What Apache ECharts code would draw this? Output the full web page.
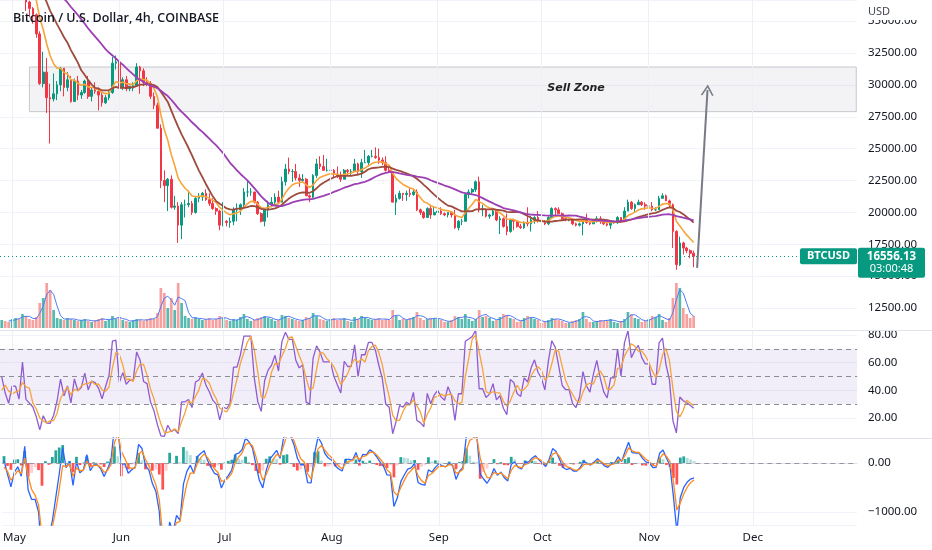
<!DOCTYPE html>
<html><head><meta charset="utf-8">
<script src="https://cdn.jsdelivr.net/npm/echarts@6/dist/echarts.min.js"></script>
<style>html,body{margin:0;padding:0;background:#fff}#c{width:932px;height:550px}</style>
</head><body><div id="c"></div>
<script>
// ---------------- data ----------------
const startDate = '2022-04-28';
const dayCount = 248; // Apr 28 .. Dec 31
const monthLabels = ['Jan','Feb','Mar','Apr','May','Jun','Jul','Aug','Sep','Oct','Nov','Dec'];
// closes before the visible window (Apr 1 - Apr 27), only used to warm up the moving averages
const warmupCloses = [45500,46300,46400,46600,45500,43200,43400,42300,42800,42200,39500,40100,41200,39900,40600,40400,39700,40800,41500,41400,40500,39700,39500,39400,40400,38100,39200];
const firstOpen = 39200;
// daily candles Apr 28 .. Nov 14
const closes = [
39700,38600,37700,38500,38500,37700,39700,36500,36000,35500,34000,
30100,31000,29000,28900,29300,30000,31300,29800,30400,28700,
30300,29200,29400,30300,29100,29600,29500,29200,28600,29000,29400,31700,31800,
29800,30400,29700,29900,29900,31400,31100,30200,30100,29100,28400,
26600,22500,22100,22600,20400,20500,19000,20600,
20600,20700,20000,21100,21200,21500,21000,20700,20300,20100,19000,
19300,19200,19300,20200,20200,20600,21600,21600,21600,20800,19900,19300,20200,20600,20800,21200,20800,22400,23400,23200,23200,22700,22500,22600,21300,21200,22900,23800,23600,23300,23300,
23300,23000,22800,22600,23300,23200,23200,23800,23200,23900,23900,24400,24400,24300,24100,23900,23300,23200,20800,21100,21500,21400,21500,21400,21600,20200,20000,19600,20300,19800,20000,
20100,19900,19800,20000,19800,18800,19300,19300,21400,21600,21800,22400,20200,20200,19700,19800,20100,19400,19500,18900,18500,19400,19300,18900,18800,19200,19100,19400,19600,19400,
19300,19100,19600,20300,20200,19900,19500,19400,19400,19100,19000,19100,19400,19200,19100,19300,19500,19300,19100,19000,19200,19200,19600,19300,20100,20800,20300,20600,20800,20600,20500,
20500,20200,20200,21100,21300,20900,20600,18500,15900,17600,17200,17000,16800,16556.13];
const highs = [
40500,39900,38800,38700,39100,38600,40000,39800,36600,36100,35600,
34200,32600,32100,30100,30900,30300,31400,31300,31000,30700,
30500,30700,29600,30400,30700,29800,30200,29800,29400,29200,29500,32200,32300,
31900,30600,30700,29900,30200,31700,31500,31300,30600,30300,29400,
28600,26900,23300,22700,22900,21300,20800,20800,
21000,21700,20900,21200,21500,21600,21800,21500,21100,20400,20200,
20800,19400,19600,20400,20700,20700,21900,22500,21900,21600,20900,20000,20300,20900,21200,21500,21700,22800,23800,24300,23400,23800,23000,23000,22700,21400,23000,24200,24400,24500,24200,
23500,23400,23600,23200,23400,23400,23400,24200,23900,24200,24900,24500,24900,25100,25000,24300,24400,23600,23200,21400,21700,21500,21700,21900,21800,21800,20300,20100,20400,20600,20500,
20200,20400,20000,20000,20000,20200,19400,19500,21500,21800,21900,22500,22800,20600,20300,19900,20200,20200,19700,19600,19900,19500,19500,19300,19100,19300,20400,19700,19700,20100,
19500,19400,19700,20400,20400,20400,20000,19600,19500,19500,19200,19200,19500,19900,19200,19400,19700,19700,19300,19300,19300,19300,19700,19600,20400,21000,20900,20700,21000,20900,20800,
20700,20800,20400,21300,21500,21400,21000,20700,18600,18100,17700,17300,17100,17000];
const lows = [
38900,38200,37600,37400,38100,37500,37600,35800,35300,34800,33700,
30000,29800,27800,25400,28700,28800,29500,29100,29500,28600,
28700,28800,28900,29300,28900,28700,29300,28000,28300,28500,28800,29300,31200,
29500,29600,29500,29500,29500,29900,29300,29900,29900,28900,28100,
26600,21900,20800,20100,20300,20200,17600,17900,
19600,20400,19800,19900,20800,20900,20900,20500,20200,19800,18600,
18900,18900,18800,19000,19300,19800,20300,21200,21300,20700,19800,19200,18900,19600,20400,20500,20700,20800,22100,23000,22400,22500,22000,22300,21300,20800,21100,22700,23400,23300,23200,
22900,22700,22700,22400,22600,22900,22900,23200,22900,22700,23900,23600,24300,24200,23800,23700,23200,23100,20800,19800,21000,20900,20900,21200,21300,20100,19800,19500,19600,19500,19800,
19600,19800,19700,19600,19600,18700,18600,19000,19300,21100,21400,21600,20000,19700,19600,19500,19700,19300,18300,18800,18200,18400,18600,18800,18700,18700,18900,18500,19100,19200,
19200,19000,19000,19500,19800,19900,19400,19300,19300,19000,18900,18900,18200,19100,19000,19100,19200,19100,19000,18900,18700,19100,19100,19200,19300,20100,20200,20000,20600,20500,20200,
20300,20100,20100,20200,21100,20900,20400,17200,15500,15800,16700,16800,16400,15700];
// volume, in the units of the volume scale
const volumes = [
8,7,6,9,10,9,14,12,9,8,11,
25,30,45,38,18,10,
9,8,10,9,8,7,8,9,7,6,8,9,10,7,8,12,9,
11,8,7,6,8,9,8,7,9,10,9,
15,40,35,20,30,18,45,25,
12,10,9,11,9,8,9,10,8,9,12,
10,8,7,9,8,11,14,9,7,8,10,11,12,10,9,7,8,13,12,10,9,8,7,8,11,10,15,12,9,8,7,
9,10,8,9,10,7,6,11,9,12,10,9,8,9,10,8,9,8,18,12,8,9,8,10,11,16,10,8,9,10,10,
9,8,6,6,8,12,11,9,14,9,7,9,18,11,12,10,7,8,11,14,13,10,9,6,7,10,12,10,9,8,
5,6,8,10,9,8,7,5,5,7,8,9,16,9,6,6,7,8,7,8,9,6,5,7,9,16,14,10,9,6,7,
9,12,11,14,8,6,10,30,45,40,20,14,10,12];
const lastPrice = 16556.13;
const countdown = '03:00:48';
const sellZone = [['2022-05-06', 31400], ['2022-12-31', 27900]];
const sellZoneLabelAt = ['2022-10-11', 29750];
const arrowLine = [['2022-11-15', 15650], ['2022-11-18', 29600]];
const rsiLevels = [70, 50, 30];

// ---------------- helpers ----------------
const cats = [];
{ const d0 = Date.parse(startDate + 'T00:00:00Z');
  for (let i = 0; i < dayCount; i++) cats.push(new Date(d0 + i * 86400000).toISOString().slice(0, 10)); }
const isMonthStart = i => cats[i] && cats[i].slice(8) === '01';
const monthStarts = cats.filter(d => d.slice(8) === '01');

function ema(a, n) { const k = 2 / (n + 1); const o = []; let e = null;
  for (const v of a) { if (v == null) { o.push(null); continue; } e = e == null ? v : e + k * (v - e); o.push(e); } return o; }
function sma(a, n) { const o = [];
  for (let i = 0; i < a.length; i++) { let s = 0, c = 0;
    for (let j = i - n + 1; j <= i; j++) if (j >= 0 && a[j] != null) { s += a[j]; c++; }
    o.push(c === n ? s / n : null); } return o; }
function rsiWilder(a, p) { const o = [null]; let ag = 0, al = 0;
  for (let i = 1; i < a.length; i++) { const d = a[i] - a[i - 1]; const g = d > 0 ? d : 0, l = d < 0 ? -d : 0;
    if (i <= p) { ag += g; al += l; if (i === p) { ag /= p; al /= p; o.push(100 - 100 / (1 + ag / Math.max(al, 1e-9))); } else o.push(null); }
    else { ag = (ag * (p - 1) + g) / p; al = (al * (p - 1) + l) / p; o.push(100 - 100 / (1 + ag / Math.max(al, 1e-9))); } }
  return o; }

const W = warmupCloses.length;
const full = warmupCloses.concat(closes);
const opens = closes.map((c, i) => i === 0 ? firstOpen : closes[i - 1]);
const candles = closes.map((c, i) => [opens[i], c, Math.min(lows[i], opens[i], c), Math.max(highs[i], opens[i], c)]);

const emaFast = ema(full, 8.4).slice(W);
const smaMid = sma(full, 17).slice(W);
const smaSlow = sma(full, 33).slice(W);

const upCol = '#089981', dnCol = '#f23645';
const volData = volumes.map((v, i) => ({ value: v, itemStyle: { color: closes[i] >= opens[i] ? 'rgba(38,166,154,0.78)' : 'rgba(239,83,80,0.55)' } }));
const volMA = sma(volumes, 3);

const rsiFull = rsiWilder(full, 5);
const rsiVals = rsiFull.slice(W);
const rsiMA = sma(rsiFull, 3).slice(W);

const e1 = ema(full, 2), e2 = ema(full, 4.33);
const macdFull = e1.map((v, i) => v - e2[i]);
const sigFull = ema(macdFull, 2.5);
const macd = macdFull.slice(W), sig = sigFull.slice(W);
const hist = macd.map((v, i) => v - sig[i]);
const histData = hist.map((h, i) => {
  const prev = i > 0 ? hist[i - 1] : 0;
  let c;
  if (h >= 0) c = h >= prev ? '#26a69a' : '#b2dfdb';
  else c = h <= prev ? '#ff5252' : '#ffcdd2';
  return { value: h, itemStyle: { color: c } };
});
const nulls = closes.map(() => null);

// ---------------- chart ----------------
const FONT = "'Noto Sans', sans-serif";
const chart = echarts.init(document.getElementById('c'));
function xAx(g, labels) {
  return { type: 'category', gridIndex: g, data: cats, boundaryGap: true,
    axisLine: { show: labels, lineStyle: { color: '#e0e3eb' } }, axisTick: { show: false },
    axisLabel: { show: labels, interval: i => isMonthStart(i), formatter: v => monthLabels[+v.slice(5, 7) - 1],
      color: '#131722', fontSize: 11.5, margin: 7, fontFamily: FONT },
    splitLine: { show: false }, splitArea: { show: false } };
}
function monthGrid(xi, yi) {
  return { type: 'line', xAxisIndex: xi, yAxisIndex: yi, data: nulls, z: 0, silent: true, showSymbol: false,
    markLine: { silent: true, symbol: ['none', 'none'], label: { show: false }, animation: false,
      lineStyle: { type: 'solid', color: '#eef0f5', width: 1 }, data: monthStarts.map(d => ({ xAxis: d })) } };
}
const labelStyle = { color: '#131722', fontSize: 11.5, margin: 10, fontFamily: FONT };
const gridBase = { left: 0, right: 74, show: false, borderWidth: 0, containLabel: false };
const option = {
  animation: false, backgroundColor: '#ffffff', textStyle: { fontFamily: FONT },
  title: { text: 'Bitcoin / U.S. Dollar, 4h, COINBASE', left: 8, top: 7,
    textStyle: { fontSize: 12.5, fontWeight: 600, color: '#131722', fontFamily: "'Open Sans', sans-serif" } },
  grid: [
    Object.assign({ top: 0, height: 308 }, gridBase),
    Object.assign({ top: 0, height: 328 }, gridBase),
    Object.assign({ top: 330, height: 108 }, gridBase),
    Object.assign({ top: 438, height: 87 }, gridBase)
  ],
  xAxis: [xAx(0, false), xAx(1, false), xAx(2, false), xAx(3, true)],
  yAxis: [
    { type: 'value', gridIndex: 0, position: 'right', min: 12500, max: 36657, interval: 2500,
      axisLine: { show: false }, axisTick: { show: false },
      axisLabel: Object.assign({ formatter: v => v.toFixed(2), showMaxLabel: false }, labelStyle),
      splitLine: { lineStyle: { color: '#f0f3fa' } } },
    { type: 'value', gridIndex: 1, min: 0, max: 328, show: false, axisLine: { show: false }, splitLine: { show: false } },
    { type: 'value', gridIndex: 2, position: 'right', min: 5.54, max: 83.6, splitNumber: 4,
      axisLine: { show: false }, axisTick: { show: false },
      axisLabel: Object.assign({ formatter: v => v.toFixed(2), showMinLabel: false, showMaxLabel: false }, labelStyle),
      splitLine: { lineStyle: { color: '#f0f3fa' } } },
    { type: 'value', gridIndex: 3, position: 'right', min: -1265, max: 510, splitNumber: 2,
      axisLine: { show: false }, axisTick: { show: false },
      axisLabel: Object.assign({ formatter: v => (v < 0 ? '\u2212' : '') + Math.abs(v).toFixed(2), showMinLabel: false, showMaxLabel: false }, labelStyle),
      splitLine: { lineStyle: { color: '#f0f3fa' } } }
  ],
  series: [
    monthGrid(1, 1), monthGrid(2, 2), monthGrid(3, 3),
    { type: 'line', xAxisIndex: 0, yAxisIndex: 0, data: nulls, z: 1, silent: true, showSymbol: false,
      markArea: { silent: true, itemStyle: { color: 'rgba(120,126,140,0.09)', borderColor: '#c5c8ce', borderWidth: 1 },
        data: [[{ coord: sellZone[0] }, { coord: sellZone[1] }]] },
      markPoint: { silent: true, symbol: 'circle', symbolSize: 0,
        label: { show: true, position: 'inside', formatter: 'Sell Zone', fontStyle: 'italic', fontWeight: 'bold',
          fontSize: 11, color: '#222', fontFamily: "'DejaVu Sans', sans-serif" },
        data: [{ coord: sellZoneLabelAt }] },
      markLine: { silent: true, symbol: ['none', 'none'], label: { show: false },
        lineStyle: { type: [1, 3], color: upCol, width: 1 }, data: [{ yAxis: lastPrice }] } },
    { type: 'bar', name: 'Volume', xAxisIndex: 1, yAxisIndex: 1, data: volData, barWidth: '78%', z: 1 },
    { type: 'line', xAxisIndex: 1, yAxisIndex: 1, data: volMA, showSymbol: false, z: 2,
      lineStyle: { color: '#4f7cf5', width: 1 } },
    { type: 'candlestick', name: 'BTCUSD', xAxisIndex: 0, yAxisIndex: 0, data: candles, barWidth: '62%', z: 3,
      itemStyle: { color: upCol, color0: dnCol, borderColor: upCol, borderColor0: dnCol, borderWidth: 1 } },
    { type: 'line', name: 'EMA', xAxisIndex: 0, yAxisIndex: 0, data: emaFast, showSymbol: false, z: 4,
      lineStyle: { color: '#f7a53b', width: 1.6 } },
    { type: 'line', name: 'SMA mid', xAxisIndex: 0, yAxisIndex: 0, data: smaMid, showSymbol: false, z: 4,
      lineStyle: { color: '#9e4a3c', width: 1.8 } },
    { type: 'line', name: 'SMA slow', xAxisIndex: 0, yAxisIndex: 0, data: smaSlow, showSymbol: false, z: 4,
      lineStyle: { color: '#9c3fb2', width: 1.8 },
      markLine: { silent: true, symbol: ['none', 'path://M0,12 L6,0 L12,12 L10.4,12 L6,3.4 L1.6,12 Z'], symbolSize: [13, 11],
        label: { show: false }, lineStyle: { type: 'solid', color: '#787b86', width: 2 },
        data: [[{ coord: arrowLine[0] }, { coord: arrowLine[1] }]] } },
    { type: 'line', name: 'RSI', xAxisIndex: 2, yAxisIndex: 2, data: rsiVals, showSymbol: false, z: 3,
      lineStyle: { color: '#8e5bd0', width: 1.3 },
      markArea: { silent: true, itemStyle: { color: 'rgba(126,87,194,0.1)' }, data: [[{ yAxis: rsiLevels[0] }, { yAxis: rsiLevels[2] }]] },
      markLine: { silent: true, symbol: ['none', 'none'], label: { show: false },
        lineStyle: { type: [5, 4], color: '#8a8d96', width: 1 }, data: rsiLevels.map(v => ({ yAxis: v })) } },
    { type: 'line', name: 'RSI MA', xAxisIndex: 2, yAxisIndex: 2, data: rsiMA, showSymbol: false, z: 4,
      lineStyle: { color: '#f5a33a', width: 1.3 } },
    { type: 'bar', name: 'Hist', xAxisIndex: 3, yAxisIndex: 3, data: histData, barWidth: '80%', z: 2,
      markLine: { silent: true, symbol: ['none', 'none'], label: { show: false },
        lineStyle: { type: [5, 4], color: '#9598a1', width: 1 }, data: [{ yAxis: 0 }] } },
    { type: 'line', name: 'MACD', xAxisIndex: 3, yAxisIndex: 3, data: macd, showSymbol: false, z: 3,
      lineStyle: { color: '#2962ff', width: 1.3 } },
    { type: 'line', name: 'Signal', xAxisIndex: 3, yAxisIndex: 3, data: sig, showSymbol: false, z: 4,
      lineStyle: { color: '#ff8a1c', width: 1.3 } }
  ]
};
chart.setOption(option);

const yPx = chart.convertToPixel({ yAxisIndex: 0 }, lastPrice);
const plotRight = 858;
chart.setOption({ graphic: [
  { type: 'rect', shape: { x: plotRight - 0.8, y: 0, width: 9, height: 550 }, style: { fill: '#ffffff' }, z: 48 },
  { type: 'line', shape: { x1: 0, y1: 330.5, x2: 932, y2: 330.5 }, style: { stroke: '#e0e3eb', lineWidth: 1 }, z: 50 },
  { type: 'line', shape: { x1: 0, y1: 438.5, x2: 932, y2: 438.5 }, style: { stroke: '#e0e3eb', lineWidth: 1 }, z: 50 },
  { type: 'rect', shape: { x: plotRight + 1, y: 0, width: 932 - plotRight, height: 20 }, style: { fill: '#ffffff' }, z: 49 },
  { type: 'text', x: 868, y: 6, style: { text: 'USD', fill: '#434651', font: "11px 'Noto Sans'" }, z: 50 },
  { type: 'rect', shape: { x: plotRight - 58, y: yPx - 8, width: 57, height: 16, r: 2 }, style: { fill: upCol }, z: 100 },
  { type: 'text', x: plotRight - 29.5, y: yPx, style: { text: 'BTCUSD', fill: '#fff', font: "bold 11px 'Noto Sans'", align: 'center', verticalAlign: 'middle' }, z: 101 },
  { type: 'rect', shape: { x: plotRight, y: yPx - 8.5, width: 67, height: 30, r: 2 }, style: { fill: upCol }, z: 100 },
  { type: 'text', x: plotRight + 33.5, y: yPx, style: { text: lastPrice.toFixed(2), fill: '#fff', font: "bold 11.5px 'Noto Sans'", align: 'center', verticalAlign: 'middle' }, z: 101 },
  { type: 'text', x: plotRight + 33.5, y: yPx + 13, style: { text: countdown, fill: '#fff', font: "11px 'Noto Sans'", align: 'center', verticalAlign: 'middle' }, z: 101 }
] });
</script>
</body></html>
